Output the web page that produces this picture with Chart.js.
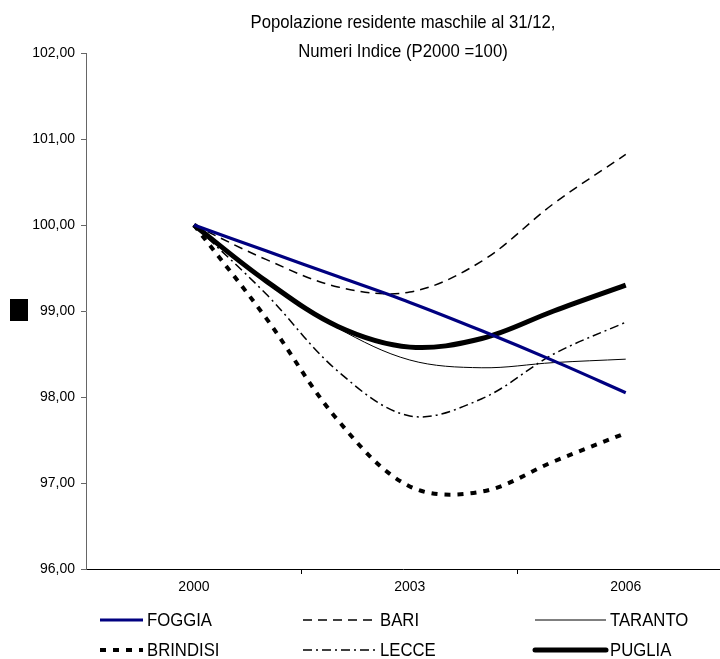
<!DOCTYPE html>
<html>
<head>
<meta charset="utf-8">
<script src="https://cdn.jsdelivr.net/npm/chart.js@4"></script>
<style>
  body { margin: 0; background: #fff; }
  #wrap { width: 720px; height: 659px; }
</style>
</head>
<body>
<div id="wrap"><canvas id="myChart" width="720" height="659"></canvas></div>
<script>
var years = [2000, 2001, 2002, 2003, 2004, 2005, 2006];
var yearLabels = [2000, 2003, 2006];
var yTicks = [96, 97, 98, 99, 100, 101, 102];
var titleLines = ['Popolazione residente maschile al 31/12,', 'Numeri Indice (P2000 =100)'];

var foggia   = [100.00, 99.70, 99.40, 99.10, 98.77, 98.42, 98.05];
var bari     = [100.00, 99.60, 99.28, 99.22, 99.58, 100.25, 100.82];
var taranto  = [100.00, 99.33, 98.80, 98.43, 98.34, 98.40, 98.44];
var brindisi = [100.00, 98.92, 97.73, 96.96, 96.90, 97.25, 97.58];
var lecce    = [100.00, 99.20, 98.30, 97.78, 97.98, 98.50, 98.87];
var puglia   = [100.00, 99.35, 98.82, 98.58, 98.68, 99.00, 99.30];

var FONT = '"Liberation Sans", Arial, sans-serif';
var NARROW = 0.88; // il testo del grafico originale e' un po' compresso in larghezza

function toPoints(values) {
  return values.map(function(v, i) { return { x: years[i], y: v }; });
}

// dataset = one line, same order as the legend (3 columns, 2 rows)
function serie(label, values, color, width, dash) {
  return {
    label: label,
    data: toPoints(values),
    borderColor: color,
    borderWidth: width,
    borderDash: dash,
    borderCapStyle: 'butt',
    pointRadius: 0,
    tension: 0.35,
    fill: false
  };
}

var legendX = [100, 303, 535];   // start of the sample line
var legendEnd = [143, 376, 606]; // end of the sample line
var legendY = [620, 650];

function narrowText(ctx, text, x, y, align) {
  ctx.save();
  ctx.translate(x, y);
  ctx.scale(NARROW, 1);
  ctx.textAlign = align;
  ctx.fillText(text, 0, 0);
  ctx.restore();
}

var extras = {
  id: 'extras',
  afterDraw: function(chart) {
    var ctx = chart.ctx;
    ctx.save();
    ctx.fillStyle = '#000';
    ctx.font = '19px ' + FONT;
    ctx.textBaseline = 'middle';
    var cx = (chart.chartArea.left + chart.chartArea.right) / 2;
    narrowText(ctx, titleLines[0], cx, 23, 'center');
    narrowText(ctx, titleLines[1], cx, 52, 'center');

    // the box left of the y axis
    ctx.fillRect(10, 299, 18, 22);

    // legenda
    chart.data.datasets.forEach(function(ds, i) {
      var col = i % 3, row = Math.floor(i / 3);
      var y = legendY[row];
      ctx.beginPath();
      ctx.setLineDash(ds.borderDash || []);
      ctx.lineWidth = ds.borderWidth;
      ctx.strokeStyle = ds.borderColor;
      ctx.lineCap = ds.label === 'PUGLIA' ? 'round' : 'butt';
      ctx.moveTo(legendX[col], y);
      ctx.lineTo(legendEnd[col], y);
      ctx.stroke();
      ctx.setLineDash([]);
      narrowText(ctx, ds.label, legendEnd[col] + 4, y + 1, 'left');
    });
    ctx.restore();
  }
};

var config = {
  type: 'line',
  data: {
    datasets: [
      serie('FOGGIA', foggia, '#000080', 3.2, []),
      serie('BARI', bari, '#000', 1.5, [9, 6]),
      serie('TARANTO', taranto, '#000', 1, []),
      serie('BRINDISI', brindisi, '#000', 4, [6, 7]),
      serie('LECCE', lecce, '#000', 1.5, [9, 4, 2, 4]),
      serie('PUGLIA', puglia, '#000', 5, [])
    ]
  },
  options: {
    responsive: false,
    animation: false,
    devicePixelRatio: 1,
    layout: { padding: { top: 53, left: 0, right: 0, bottom: 0 } },
    plugins: {
      legend: { display: false },
      title: { display: false },
      tooltip: { enabled: false }
    },
    scales: {
      x: {
        type: 'linear',
        min: 1998.5,
        max: 2007.31,
        afterBuildTicks: function(scale) {
          // labels on the years, tick marks between them
          scale.ticks = [2000, 2001.5, 2003, 2004.5, 2006].map(function(v) { return { value: v }; });
        },
        afterFit: function(scale) { scale.height = 90; },
        border: { color: '#000', width: 1 },
        grid: {
          drawOnChartArea: false,
          tickLength: 5,
          tickColor: function(c) {
            return c.tick && yearLabels.indexOf(c.tick.value) === -1 ? '#000' : 'rgba(0,0,0,0)';
          }
        },
        ticks: {
          autoSkip: false,
          maxRotation: 0,
          padding: 5,
          color: '#000',
          font: { family: FONT, size: 14 },
          callback: function(v) { return yearLabels.indexOf(v) !== -1 ? String(v) : ''; }
        }
      },
      y: {
        min: 96,
        max: 102,
        afterBuildTicks: function(scale) {
          scale.ticks = yTicks.map(function(v) { return { value: v }; });
        },
        afterFit: function(scale) { scale.width = 86; },
        border: { color: '#666', width: 1 },
        grid: { drawOnChartArea: false, tickLength: 5, tickColor: '#666' },
        ticks: {
          padding: 6,
          color: '#000',
          font: { family: FONT, size: 14 },
          callback: function(v) { return v.toFixed(2).replace('.', ','); }
        }
      }
    }
  },
  plugins: [extras]
};

var ctx = document.getElementById('myChart').getContext('2d');
var myChart = new Chart(ctx, config);
</script>
</body>
</html>
